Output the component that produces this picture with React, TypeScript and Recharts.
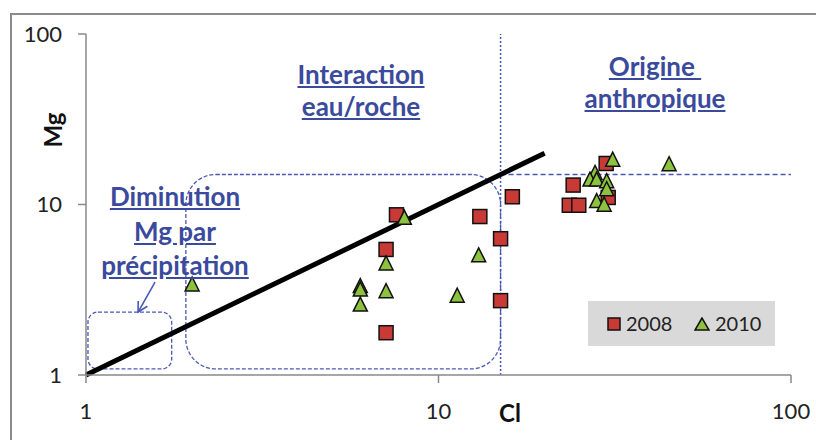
import React from 'react';
import { ScatterChart, Scatter, XAxis, YAxis, ReferenceLine, ReferenceArea } from 'recharts';

// Cl / Mg values
const cl2008 = [7.6, 13.1, 16.2, 15.0, 7.1, 15.0, 7.1, 29.9, 24.1, 23.5, 25.0, 30.3];
const mg2008 = [8.7, 8.5, 11.1, 6.3, 5.45, 2.73, 1.77, 17.4, 13.0, 9.9, 9.9, 11.0];
const cl2010 = [8.0, 7.1, 6.0, 6.0, 7.1, 6.0, 11.3, 13.0, 2.0, 31.2, 45.1, 27.8, 26.9, 28.1, 30.0, 30.0, 28.1, 29.5];
const mg2010 = [8.3, 4.48, 3.3, 3.15, 3.08, 2.57, 2.9, 5.0, 3.37, 18.2, 17.1, 15.2, 13.9, 13.9, 13.6, 12.2, 10.4, 9.9];
const axisTicks = [1, 10, 100];
const limitCl = 15;
const limitMg = 15;

const pts2008 = cl2008.map((x, i) => ({ x, y: mg2008[i] }));
const pts2010 = cl2010.map((x, i) => ({ x, y: mg2010[i] }));

const blue = '#4858b8';
const textBlue = '#3a4a9c';
const font = 'Lato, "Open Sans", sans-serif';

const Square = (props: any) => {
  const { cx, cy } = props;
  return <rect x={cx - 7} y={cy - 7} width={14} height={14} fill="#c93a36" stroke="#111" strokeWidth={1.5} />;
};

const Triangle = (props: any) => {
  const { cx, cy } = props;
  return (
    <polygon
      points={`${cx},${cy - 8} ${cx - 7},${cy + 6} ${cx + 7},${cy + 6}`}
      fill="#8dc23e"
      stroke="#111"
      strokeWidth={1.5}
    />
  );
};

const RoundBox = (props: any) => {
  const { x, y, width, height } = props;
  return (
    <rect x={x} y={y} width={width} height={height} rx={30} ry={30}
      fill="none" stroke={blue} strokeWidth={1.3} strokeDasharray="4 2" />
  );
};

const SmallBox = (props: any) => {
  const { x, y, width, height } = props;
  return (
    <rect x={x} y={y} width={width} height={height} rx={10} ry={10}
      fill="none" stroke={blue} strokeWidth={1.3} strokeDasharray="4 2" />
  );
};

const Arrow = (props: any) => {
  const { x1, y1, x2, y2 } = props;
  const a = Math.atan2(y2 - y1, x2 - x1);
  const l = 11;
  const p1 = `${x2 - l * Math.cos(a - 0.5)},${y2 - l * Math.sin(a - 0.5)}`;
  const p2 = `${x2 - l * Math.cos(a + 0.5)},${y2 - l * Math.sin(a + 0.5)}`;
  return (
    <g stroke={blue} strokeWidth={1.6} fill="none">
      <line x1={x1} y1={y1} x2={x2} y2={y2} />
      <polyline points={`${p1} ${x2},${y2} ${p2}`} />
    </g>
  );
};

const noteStyle: React.CSSProperties = {
  position: 'absolute',
  fontFamily: font,
  fontWeight: 700,
  fontSize: 26,
  color: textBlue,
  textDecoration: 'underline',
  textAlign: 'center',
  lineHeight: '32px',
  whiteSpace: 'nowrap',
  transform: 'translateX(-50%)',
};

export default function App() {
  return (
    <div style={{ position: 'absolute', left: 0, top: 0, width: 816, height: 440, background: '#fff', overflow: 'hidden' }}>
      <div style={{ position: 'absolute', left: 10, top: 13, width: 840, height: 460, border: '2px solid #8a8a8a', boxSizing: 'border-box' }} />
      <div style={{ position: 'absolute', left: 0, top: 0 }}>
        <ScatterChart width={816} height={440} margin={{ top: 34, right: 25, bottom: 35, left: 46 }}>
          <XAxis
            type="number"
            dataKey="x"
            scale="log"
            domain={[1, 100]}
            allowDataOverflow
            ticks={axisTicks}
            interval={0}
            stroke="#888"
            strokeWidth={1.5}
            tickSize={8}
            tickMargin={20}
            height={30}
            tick={{ fill: '#222', fontSize: 22, fontFamily: font }}
          />
          <YAxis
            type="number"
            dataKey="y"
            scale="log"
            domain={[1, 100]}
            allowDataOverflow
            ticks={axisTicks}
            interval={0}
            stroke="#888"
            strokeWidth={1.5}
            tickSize={8}
            tickMargin={16}
            width={40}
            tick={{ fill: '#222', fontSize: 22, fontFamily: font }}
          />
          <ReferenceArea x1={1.92} x2={limitCl} y1={1.085} y2={limitMg} shape={RoundBox} />
          <ReferenceArea x1={1.013} x2={1.75} y1={1.085} y2={2.34} shape={SmallBox} />
          <ReferenceLine x={limitCl} stroke={blue} strokeWidth={1.5} strokeDasharray="2 2" />
          <ReferenceLine segment={[{ x: limitCl, y: limitMg }, { x: 100, y: limitMg }]} stroke={blue} strokeWidth={1.3} strokeDasharray="5 3" />
          <ReferenceLine segment={[{ x: 1, y: 1 }, { x: 20, y: 20 }]} stroke="#000" strokeWidth={5} />
          <ReferenceLine segment={[{ x: 1.57, y: 3.51 }, { x: 1.405, y: 2.34 }]} shape={Arrow} />
          <Scatter name="2008" data={pts2008} shape={Square} isAnimationActive={false} />
          <Scatter name="2010" data={pts2010} shape={Triangle} isAnimationActive={false} />
        </ScatterChart>
      </div>

      <div style={{ ...noteStyle, left: 175, top: 179, lineHeight: '34.5px' }}>
        Diminution<br />Mg par<br />précipitation
      </div>
      <div style={{ ...noteStyle, left: 361, top: 58 }}>
        Interaction<br />eau/roche
      </div>
      <div style={{ ...noteStyle, left: 655, top: 50 }}>
        Origine&nbsp;<br />anthropique
      </div>

      <div style={{ position: 'absolute', left: 52, top: 130, transform: 'translate(-50%, -50%) rotate(-90deg)', fontFamily: font, fontWeight: 700, fontSize: 24, color: '#111' }}>
        Mg
      </div>
      <div style={{ position: 'absolute', left: 510, top: 398, transform: 'translateX(-50%)', fontFamily: font, fontWeight: 700, fontSize: 24, color: '#111' }}>
        Cl
      </div>

      <div style={{ position: 'absolute', left: 588, top: 301, width: 187, height: 45, background: '#d9d9d9', fontFamily: font, fontSize: 20, color: '#222' }}>
        <svg style={{ position: 'absolute', left: 19, top: 16 }} width={14} height={14}>
          <rect x={1} y={1} width={12} height={12} fill="#c93a36" stroke="#111" strokeWidth={1.5} />
        </svg>
        <span style={{ position: 'absolute', left: 38, top: 10 }}>2008</span>
        <svg style={{ position: 'absolute', left: 106, top: 16 }} width={16} height={14}>
          <polygon points="8,1 1,13 15,13" fill="#8dc23e" stroke="#111" strokeWidth={1.5} />
        </svg>
        <span style={{ position: 'absolute', left: 127, top: 10 }}>2010</span>
      </div>
    </div>
  );
}
